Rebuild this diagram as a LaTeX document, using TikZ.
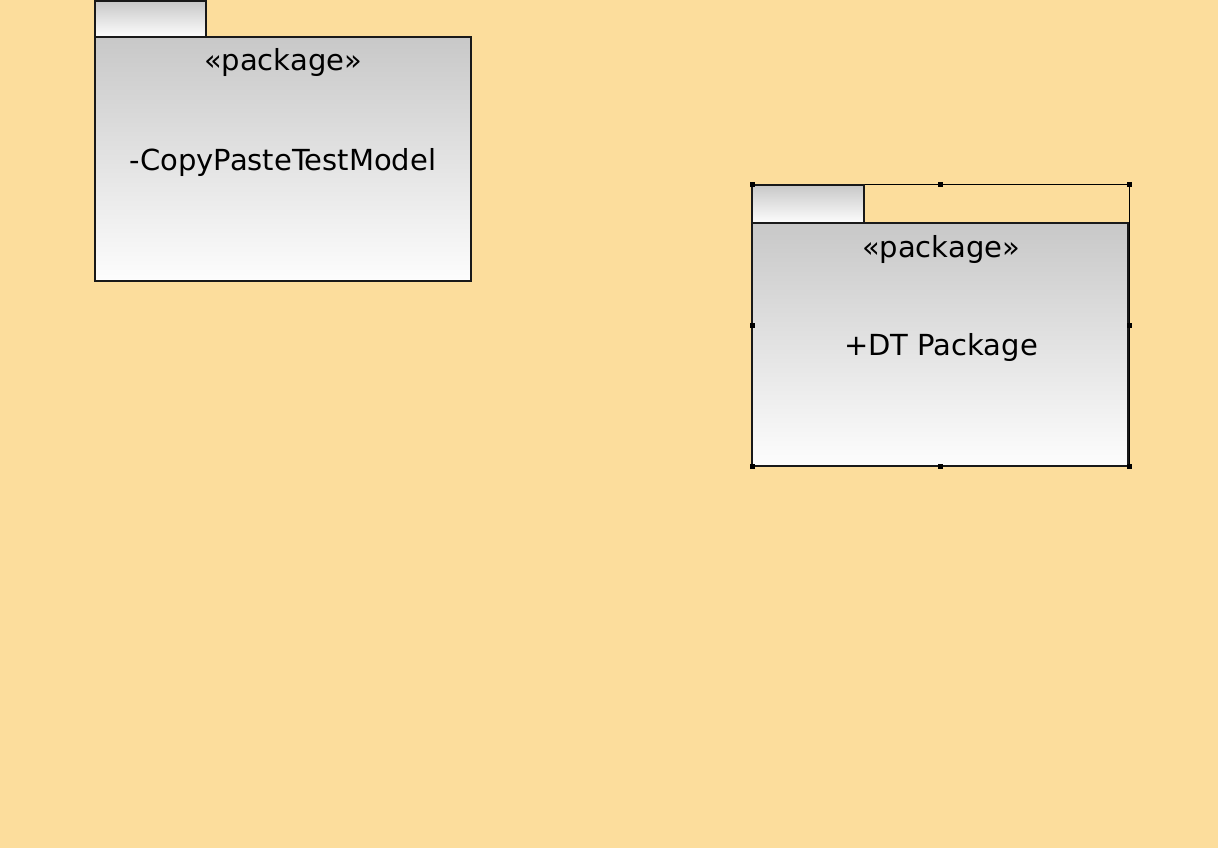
\documentclass[tikz,border=0pt]{standalone}
\usepackage{fontspec}
\setmainfont{DejaVu Sans}
\definecolor{bgorange}{RGB}{252,221,156}
\definecolor{pkgtop}{RGB}{200,200,200}
\definecolor{pkgbot}{RGB}{253,253,253}
\definecolor{pkgline}{RGB}{25,25,25}
\begin{document}
\begin{tikzpicture}[x=1pt,y=-1pt,
  pkgbody/.style={rectangle, draw=pkgline, line width=1.8pt, top color=pkgtop, bottom color=pkgbot, inner sep=0pt, outer sep=0pt},
  pkgtab/.style={rectangle, draw=pkgline, line width=1.8pt, top color=pkgtop, bottom color=pkgbot, inner sep=0pt, outer sep=0pt, anchor=south west},
  lbl/.style={inner sep=0pt, font=\fontsize{29}{34}\selectfont, text=black},
  selbox/.style={rectangle, draw=black, line width=0.7pt, inner sep=0pt, outer sep=0pt},
  handle/.style={rectangle, fill=black, minimum size=5pt, inner sep=0pt}]
\fill[white] (0,0) rectangle (1231,861);
\fill[bgorange] (0,0) rectangle (1218,848);
\useasboundingbox (0,0) rectangle (1231,861);
% left package
\node[pkgbody, minimum width=376pt, minimum height=244pt] (b1) at (283,159) {};
\node[pkgtab, minimum width=111pt, minimum height=36pt] (t1) at (b1.north west) {};
\node[lbl] (s1) at (283,63) {«package»};
\node[lbl] (n1) at (283,162) {-CopyPasteTestModel};
% right package (selected)
\node[selbox, minimum width=377pt, minimum height=282pt] (sel) at (940.5,325.5) {};
\node[pkgbody, minimum width=376pt, minimum height=243pt] (b2) at (940,344.5) {};
\node[pkgtab, minimum width=112pt, minimum height=38pt] (t2) at (b2.north west) {};
\node[lbl] (s2) at (941,249) {«package»};
\node[lbl] (n2) at (941,347) {+DT Package};
% selection handles
\foreach \a in {north west,north,north east,west,east,south west,south,south east}
  \node[handle] at (sel.\a) {};
\end{tikzpicture}
\end{document}
